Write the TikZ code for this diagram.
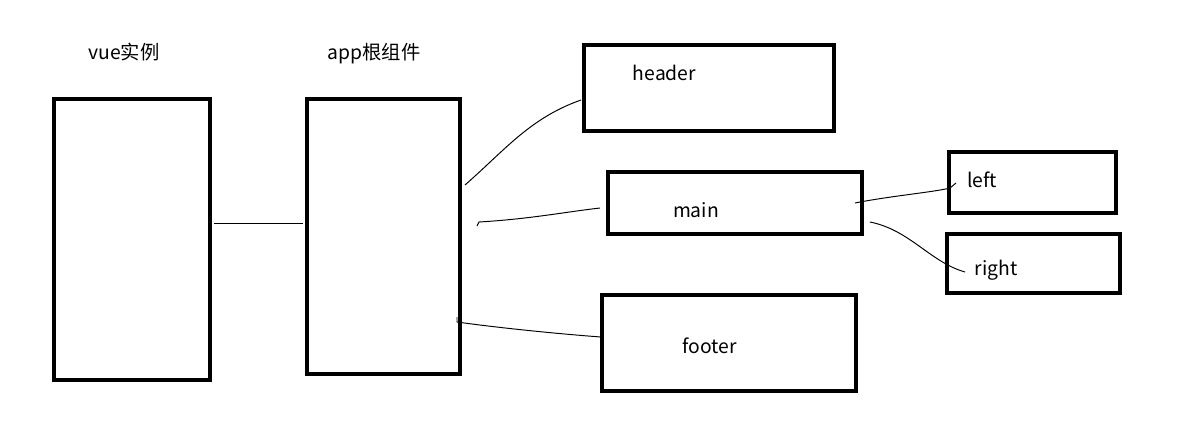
\documentclass[tikz,border=0pt]{standalone}
\usepackage{fontspec}
\setmainfont{Noto Sans CJK SC}
\usetikzlibrary{calc}
\newcommand{\unitpx}{0.02cm}
\tikzset{part/.style={draw=#1,line width=0.08cm,inner sep=0pt},part/.default=black}
\tikzset{tag/.style={color=#1,inner sep=0pt,anchor=base,font=\fontsize{11}{13}\selectfont},tag/.default=black}
\tikzset{wire/.style={color=#1,line width=0.55pt},wire/.default=black}

\begin{document}
\begin{tikzpicture}[x=\unitpx,y=-\unitpx]
		\useasboundingbox (0,0) rectangle (1194,436);
		% boxes
		\node [part,minimum width=3.12cm,minimum height=5.62cm] (vue) at (132,239.5) {};
		\node [part,minimum width=3.06cm,minimum height=5.50cm] (app) at (383.5,236.5) {};
		\node [part,minimum width=5.00cm,minimum height=1.72cm] (header) at (709,88) {};
		\node [part,minimum width=5.08cm,minimum height=1.24cm] (main) at (735,203) {};
		\node [part,minimum width=5.08cm,minimum height=1.92cm] (footer) at (729,343) {};
		\node [part,minimum width=3.34cm,minimum height=1.22cm] (left) at (1032.5,182.5) {};
		\node [part,minimum width=3.46cm,minimum height=1.18cm] (right) at (1033.5,263.5) {};
		
		% texts
		\node [tag] (vuetext) at (124,59) {vue实例};
		\node [tag] (apptext) at (374,59) {app根组件};
		\node [tag] (headertext) at (664.5,80) {header};
		\node [tag] (maintext) at (696,217) {main};
		\node [tag] (footertext) at (709.5,353) {footer};
		\node [tag] (lefttext) at (982,187) {left};
		\node [tag] (righttext) at (996,275) {right};
		
		% links
		\draw [wire] ($(vue.east)+(2,-16.5)$) -- ($(app.west)+(-2,-13.5)$);
		\draw [wire] ($(app.east)+(3,-51.5)$) .. controls (505,150) and (530,118) .. ($(header.west)+(-1,12)$);
		\draw [wire] ($(app.east)+(15,-10.5)$) -- (479,222)
			.. controls (530,219) and (565,212) .. ($(main.west)+(-6,5)$);
		\draw [wire] ($(app.east)+(-5,80.5)$) -- (457,322)
			.. controls (500,328) and (560,334) .. ($(footer.west)+(1,-6)$);
		\draw [wire] ($(main.east)+(-9,0)$) .. controls (890,196) and (935,192) .. (950,188)
			-- ($(left.west)+(9,0.5)$);
		\draw [wire] ($(main.east)+(6,19)$) .. controls (910,230) and (930,262) .. ($(right.west)+(20,8.5)$);
	\end{tikzpicture}
\end{document}
